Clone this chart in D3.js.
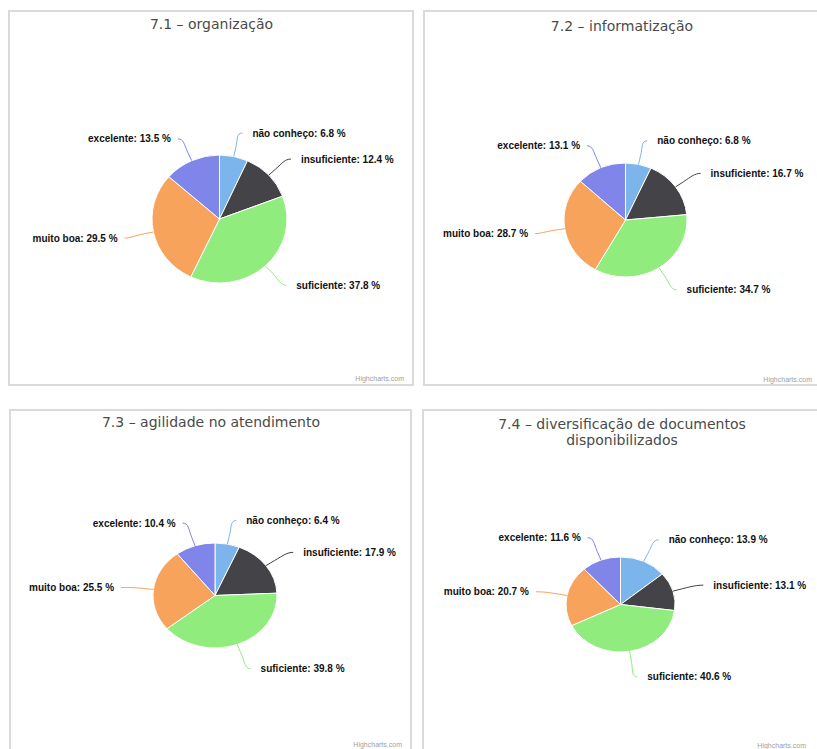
<!DOCTYPE html>
<html><head><meta charset="utf-8">
<script src="https://cdn.jsdelivr.net/npm/d3@7"></script>
<style>body{margin:0;background:#fff}</style>
</head><body><svg id="c" width="817" height="749"></svg>
<script>
// ---- data ----
const categories = ["não conheço", "insuficiente", "suficiente", "muito boa", "excelente"];
const colors = ["#7cb5ec", "#434348", "#90ed7d", "#f7a35c", "#8085e9"];
const values71 = [6.8, 12.4, 37.8, 29.5, 13.5];
const values72 = [6.8, 16.7, 34.7, 28.7, 13.1];
const values73 = [6.4, 17.9, 39.8, 25.5, 10.4];
const values74 = [13.9, 13.1, 40.6, 20.7, 11.6];
const title71 = ["7.1 – organização"];
const title72 = ["7.2 – informatização"];
const title73 = ["7.3 – agilidade no atendimento"];
const title74 = ["7.4 – diversificação de documentos", "disponibilizados"];
const credit = "Highcharts.com";

// ---- layout ----
const panels = [
  {values: values71, title: title71, frame: [9, 11, 404, 374], cx: 219.5, cy: 219, rx: 67.5, ry: 64, tx: 211.5, ty: 24, credY: 379},
  {values: values72, title: title72, frame: [424, 11, 410, 374], cx: 625.5, cy: 220, rx: 61.5, ry: 57, tx: 622, ty: 26, credY: 380, credX: 812},
  {values: values73, title: title73, frame: [10, 410, 401, 380], cx: 215, cy: 595.5, rx: 62, ry: 52.5, tx: 211, ty: 422, credY: 745},
  {values: values74, title: title74, frame: [423, 410, 410, 380], cx: 620.5, cy: 604.5, rx: 54.5, ry: 47.5, tx: 622, ty: 424, credY: 746, credX: 806}
];

const svg = d3.select("#c");
svg.append("rect").attr("width", 817).attr("height", 749).attr("fill", "#fff");

const pie = d3.pie().sort(null).value(d => d);

panels.forEach(p => {
  const [fx, fy, fw, fh] = p.frame;
  svg.append("rect").attr("x", fx).attr("y", fy).attr("width", fw).attr("height", fh)
    .attr("fill", "#fff").attr("stroke", "#dadada").attr("stroke-width", 2);

  // title
  const t = svg.append("text").attr("x", p.tx).attr("y", p.ty)
    .attr("text-anchor", "middle").attr("font-family", "DejaVu Sans")
    .attr("font-size", 14).attr("fill", "#4a4a4a");
  p.title.forEach((line, i) => {
    t.append("tspan").attr("x", p.tx).attr("dy", i === 0 ? "0.35em" : 16).text(line);
  });

  // credit
  svg.append("text").attr("x", p.credX || fx + fw - 9).attr("y", p.credY)
    .attr("text-anchor", "end").attr("font-family", "Liberation Sans")
    .attr("font-size", 7).attr("fill", "#a0a0a0").attr("dy", "0.35em").text(credit);

  const sx = p.rx / p.ry;
  const arcs = pie(p.values);
  const arc = d3.arc().innerRadius(0).outerRadius(p.ry);
  const g = svg.append("g").attr("transform", `translate(${p.cx},${p.cy}) scale(${sx},1)`);
  g.selectAll("path").data(arcs).join("path")
    .attr("d", arc)
    .attr("fill", (d, i) => colors[i])
    .attr("stroke", "#fff").attr("stroke-width", 1)
    .attr("vector-effect", "non-scaling-stroke");

  // labels and connectors
  const R = p.ry + 25;
  arcs.forEach((d, i) => {
    const a = (d.startAngle + d.endAngle) / 2;
    const s = Math.sin(a), c = -Math.cos(a);
    const right = a < Math.PI;
    const side = right ? 1 : -1;
    const dyc = c * R;
    const y = p.cy + dyc + 1;
    const x = p.cx + side * Math.sqrt(Math.max(0, R * R - dyc * dyc)) * sx;
    const base = [p.cx + s * p.rx, p.cy + c * p.ry];
    const brk = [p.cx + s * (p.rx + 9 * sx), p.cy + c * (p.ry + 9)];
    const ctl = [p.cx + s * (p.rx + 18 * sx), p.cy + c * (p.ry + 18)];
    const path = d3.path();
    path.moveTo(x + side * 3, y);
    path.bezierCurveTo(x - side * 3, y, ctl[0], ctl[1], brk[0], brk[1]);
    path.lineTo(base[0], base[1]);
    svg.append("path").attr("d", path.toString()).attr("fill", "none")
      .attr("stroke", colors[i]).attr("stroke-width", 1);
    svg.append("text").attr("x", x + side * (right ? 13 : 10)).attr("y", y).attr("dy", "0.35em")
      .attr("text-anchor", right ? "start" : "end")
      .attr("font-family", "Liberation Sans").attr("font-weight", "bold")
      .attr("font-size", 10).attr("fill", "#111")
      .text(`${categories[i]}: ${p.values[i].toFixed(1)} %`);
  });
});
</script></body></html>
